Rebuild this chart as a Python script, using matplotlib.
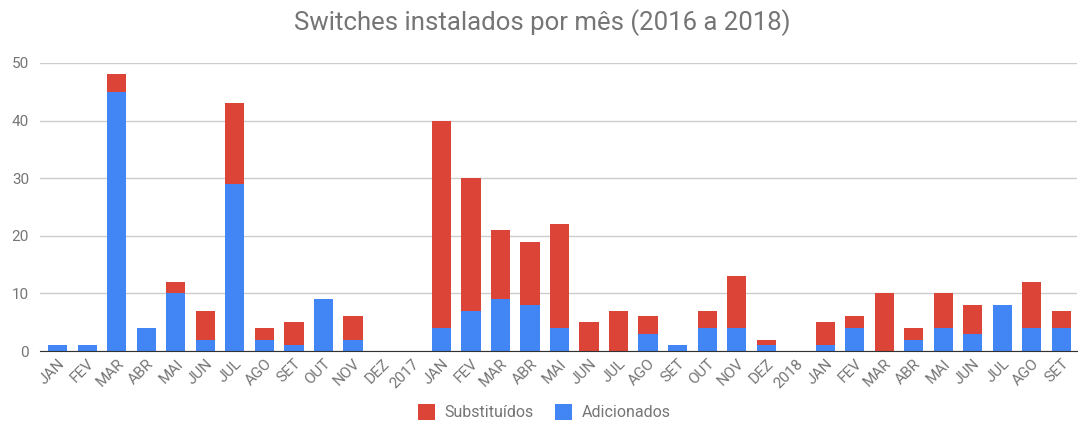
import matplotlib
matplotlib.use("Agg")
import matplotlib.pyplot as plt
import numpy as np

plt.rcParams["font.family"] = ["Roboto", "DejaVu Sans"]

labels = ["JAN", "FEV", "MAR", "ABR", "MAI", "JUN", "JUL", "AGO", "SET", "OUT", "NOV", "DEZ",
          "2017",
          "JAN", "FEV", "MAR", "ABR", "MAI", "JUN", "JUL", "AGO", "SET", "OUT", "NOV", "DEZ",
          "2018",
          "JAN", "FEV", "MAR", "ABR", "MAI", "JUN", "JUL", "AGO", "SET"]

adicionados = [1, 1, 45, 4, 10, 2, 29, 2, 1, 9, 2, 0,
               0,
               4, 7, 9, 8, 4, 0, 0, 3, 1, 4, 4, 1,
               0,
               1, 4, 0, 2, 4, 3, 8, 4, 4]

substituidos = [0, 0, 3, 0, 2, 5, 14, 2, 4, 0, 4, 0,
                0,
                36, 23, 12, 11, 18, 5, 7, 3, 0, 3, 9, 1,
                0,
                4, 2, 10, 2, 6, 5, 0, 8, 3]

azul = "#4285F4"
vermelho = "#DB4437"
cinza = "#757575"

fig = plt.figure(figsize=(10.84, 4.25), dpi=100)
ax = fig.add_axes([0.037, 0.174, 0.957, 0.678])

x = np.arange(len(labels))
ax.bar(x, adicionados, width=0.65, color=azul, label="Adicionados", zorder=2)
ax.bar(x, substituidos, width=0.65, bottom=adicionados, color=vermelho,
       label="Substituídos", zorder=2)

ax.set_xlim(-0.6, len(labels) - 0.45)
ax.set_ylim(0, 50)
ax.set_yticks([0, 10, 20, 30, 40, 50])
ax.grid(axis="y", color="#cccccc", lw=1, zorder=0)
for s in ["top", "right", "left"]:
    ax.spines[s].set_visible(False)
ax.spines["bottom"].set_color("#333333")
ax.spines["bottom"].set_zorder(3)

ax.set_xticks(x)
ax.set_xticklabels(labels, rotation=45, ha="right", rotation_mode="anchor",
                   fontsize=11, color=cinza)
ax.tick_params(axis="x", length=0, pad=4)
ax.tick_params(axis="y", length=0, pad=8, labelsize=11, labelcolor=cinza)

fig.text(0.5, 0.948, "Switches instalados por mês (2016 a 2018)", ha="center",
         va="center", fontsize=18.5, color=cinza)

handles, lbls = ax.get_legend_handles_labels()
fig.legend(handles[::-1], lbls[::-1], loc="center", bbox_to_anchor=(0.502, 0.03),
           ncol=2, frameon=False, fontsize=11.5, labelcolor=cinza,
           handlelength=1.1, handleheight=1.1, handletextpad=0.6, columnspacing=1.3)

fig.savefig("out.png", dpi=100)
